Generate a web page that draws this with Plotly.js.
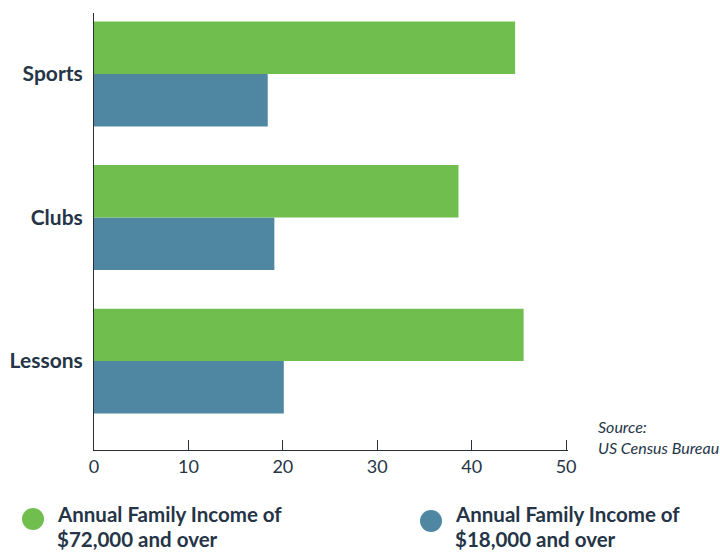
<!DOCTYPE html>
<html><head><meta charset="utf-8">
<script src="https://cdn.plot.ly/plotly-3.0.1.min.js"></script>
<style>html,body{margin:0;padding:0;background:#fff}</style>
</head><body>
<div id="chart" style="width:720px;height:552px"></div>
<script>
const categories = ['Lessons', 'Clubs', 'Sports'];
const highIncome = [45.5, 38.6, 44.6];
const lowIncome = [20.1, 19.1, 18.4];
const seriesLine1 = ['Annual Family Income of', 'Annual Family Income of'];
const seriesLine2 = ['$72,000 and over', '$18,000 and over'];
const tickValues = [0, 10, 20, 30, 40, 50];
const sourceLines = ['Source:', 'US Census Bureau'];

const green = '#70BF4E', blue = '#4F87A2', ink = '#253547';
const L = 94, T = 13, W = 474, H = 437;
const px = x => (x - L) / W;
const py = y => (T + H - y) / H;

const traces = [
  {type:'bar', orientation:'h', y:categories, x:lowIncome, name:seriesLine2[1],
   marker:{color:blue}, showlegend:false, hoverinfo:'x'},
  {type:'bar', orientation:'h', y:categories, x:highIncome, name:seriesLine2[0],
   marker:{color:green}, showlegend:false, hoverinfo:'x'}
];

function txt(x, y, s, size, style) {
  return {xref:'paper', yref:'paper', x:px(x), y:py(y), xanchor:'left', yanchor:'middle', align:'left',
          borderpad:0, text:style==='b' ? '<b>'+s+'</b>' : '<i>'+s+'</i>', showarrow:false,
          font:{size:size, color:ink, family:'Lato'}};
}

const layout = {
  width:720, height:552,
  margin:{l:L, r:720-L-W, t:T, b:552-T-H},
  paper_bgcolor:'#fff', plot_bgcolor:'#fff',
  barmode:'group', bargap:0.27, bargroupgap:0,
  font:{family:'Lato, sans-serif', color:ink},
  xaxis:{range:[0,50.2], tickvals:tickValues, ticks:'inside', ticklen:10, tickcolor:'#2a2f36', tickwidth:1,
         showgrid:false, zeroline:false, showline:true, linecolor:'#2a2f36', linewidth:1,
         tickfont:{size:18, color:ink, family:'Lato'}, fixedrange:true},
  yaxis:{type:'category', categoryarray:categories, range:[-0.62, 2.425], showgrid:false, zeroline:false,
         showline:true, linecolor:'#2a2f36', linewidth:1, ticks:'', ticklabelstandoff:6,
         tickfont:{size:21, color:ink, family:'Lato', weight:'bold'}, fixedrange:true},
  shapes:[
    {type:'circle', xref:'paper', yref:'paper', x0:px(22), x1:px(44), y0:py(530), y1:py(508),
     fillcolor:green, line:{width:0}},
    {type:'circle', xref:'paper', yref:'paper', x0:px(420), x1:px(442), y0:py(532), y1:py(510),
     fillcolor:blue, line:{width:0}}
  ],
  annotations:[
    txt(56, 514, seriesLine1[0], 20.5, 'b'),
    txt(56, 539, seriesLine2[0], 20.5, 'b'),
    txt(454, 514, seriesLine1[1], 20.5, 'b'),
    txt(454, 539, seriesLine2[1], 20.5, 'b'),
    txt(597, 426, sourceLines[0], 16, 'i'),
    txt(597, 447, sourceLines[1], 16, 'i')
  ]
};

Plotly.newPlot('chart', traces, layout, {displayModeBar:false, staticPlot:true});
</script>
</body></html>
